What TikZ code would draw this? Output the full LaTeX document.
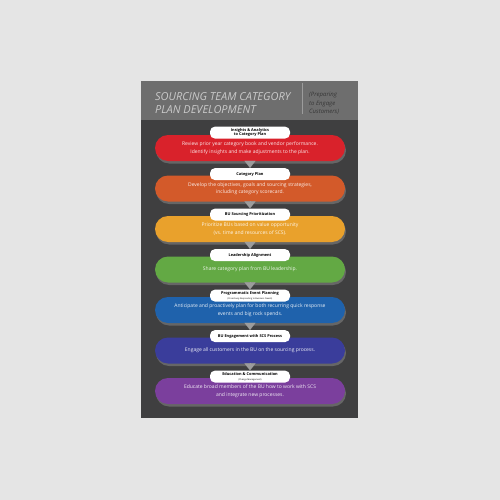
\documentclass[tikz,border=0pt]{standalone}
\usepackage{fontspec}
\setmainfont{Open Sans}
\usepackage{xcolor}
\usetikzlibrary{positioning,shadows,arrows.meta}

\definecolor{pagebg}{HTML}{E5E5E5}
\definecolor{panelbg}{HTML}{3F3F40}
\definecolor{headbg}{HTML}{6E6E6E}
\definecolor{titlegray}{HTML}{CACACA}
\definecolor{notegray}{HTML}{363636}
\definecolor{arrowgray}{HTML}{9C9C9C}
\definecolor{redpill}{HTML}{D9222B}
\definecolor{orangepill}{HTML}{D35A2A}
\definecolor{yellowpill}{HTML}{E9A12C}
\definecolor{greenpill}{HTML}{63A944}
\definecolor{bluepill}{HTML}{1F62AC}
\definecolor{indigopill}{HTML}{3A3D9B}
\definecolor{purplepill}{HTML}{7B3F9D}

\begin{document}
\begin{tikzpicture}[x=1pt,y=1pt]
\tikzstyle{every node}+=[inner sep=0pt]
\tikzstyle{pill}=[rounded corners=13pt, minimum width=190pt, minimum height=26pt, align=center, font=\fontsize{5}{7.5}\selectfont, text=white, text opacity=0.9, drop shadow={shadow xshift=1pt, shadow yshift=-2.5pt, opacity=0.6}]
\tikzstyle{tag}=[fill=white, rounded corners=5pt, minimum width=80pt, minimum height=12pt, inner ysep=1.5pt, align=center, font=\bfseries\fontsize{3.9}{4.7}\selectfont, text=black]
\tikzstyle{tri}=[arrowgray, line width=0.1pt, -{Triangle[width=11pt,length=7pt]}]
\useasboundingbox (0,0) rectangle (500,-500);
\fill[pagebg] (0,0) rectangle (500,-500);
\fill[panelbg] (141,-81) rectangle (358,-418);
\fill[headbg] (141,-81) rectangle (358,-120);
\draw[arrowgray, line width=0.6pt] (302,-83) -- (302,-114);
\node[anchor=west, align=left, text=titlegray, font=\itshape\fontsize{11}{13}\selectfont] (title) at (155,-103.5) {SOURCING TEAM CATEGORY\\PLAN DEVELOPMENT};
\node[anchor=west, align=left, text=notegray, font=\itshape\fontsize{6}{8.5}\selectfont] (note) at (309,-103.5) {(Preparing\\to Engage\\Customers)};
\node[pill, fill=redpill] (insight) at (250,-148) {Review prior year category book and vendor performance.\\Identify insights and make adjustments to the plan.};
\node[pill, fill=orangepill] (plan) at (250,-188.5) {Develop the objectives, goals and sourcing strategies,\\including category scorecard.};
\node[pill, fill=yellowpill] (prio) at (250,-229) {Prioritize BUs based on value opportunity\\(vs. time and resources of SCS).};
\node[pill, fill=greenpill] (lead) at (250,-269.5) {Share category plan from BU leadership.};
\node[pill, fill=bluepill] (event) at (250,-310) {Anticipate and proactively plan for both recurring quick response\\events and big rock spends.};
\node[pill, fill=indigopill] (engage) at (250,-350.5) {Engage all customers in the BU on the sourcing process.};
\node[pill, fill=purplepill] (educ) at (250,-391) {Educate broad members of the BU how to work with SCS\\and integrate new processes.};
\node[tag, above=-4pt of insight] (insighttag) {Insights \& Analytics\\to Category Plan};
\node[tag, above=-5pt of plan] (plantag) {Category Plan};
\node[tag, above=-5pt of prio] (priotag) {BU Sourcing Prioritization};
\node[tag, above=-5pt of lead] (leadtag) {Leadership Alignment};
\node[tag, above=-5pt of event] (eventtag) {Programmatic Event Planning\\{\mdseries\fontsize{2.2}{3}\selectfont (Proactively Responding to Business Needs)}};
\node[tag, above=-5pt of engage] (engagetag) {BU Engagement with SCS Process};
\node[tag, above=-5pt of educ] (eductag) {Education \& Communication\\{\mdseries\fontsize{2.2}{3}\selectfont (Change Management)}};
\draw[tri] (insight.south) -- (plantag.north);
\draw[tri] (plan.south) -- (priotag.north);
\draw[tri] (prio.south) -- (leadtag.north);
\draw[tri] (lead.south) -- (eventtag.north);
\draw[tri] (event.south) -- (engagetag.north);
\draw[tri] (engage.south) -- (eductag.north);
\end{tikzpicture}
\end{document}
